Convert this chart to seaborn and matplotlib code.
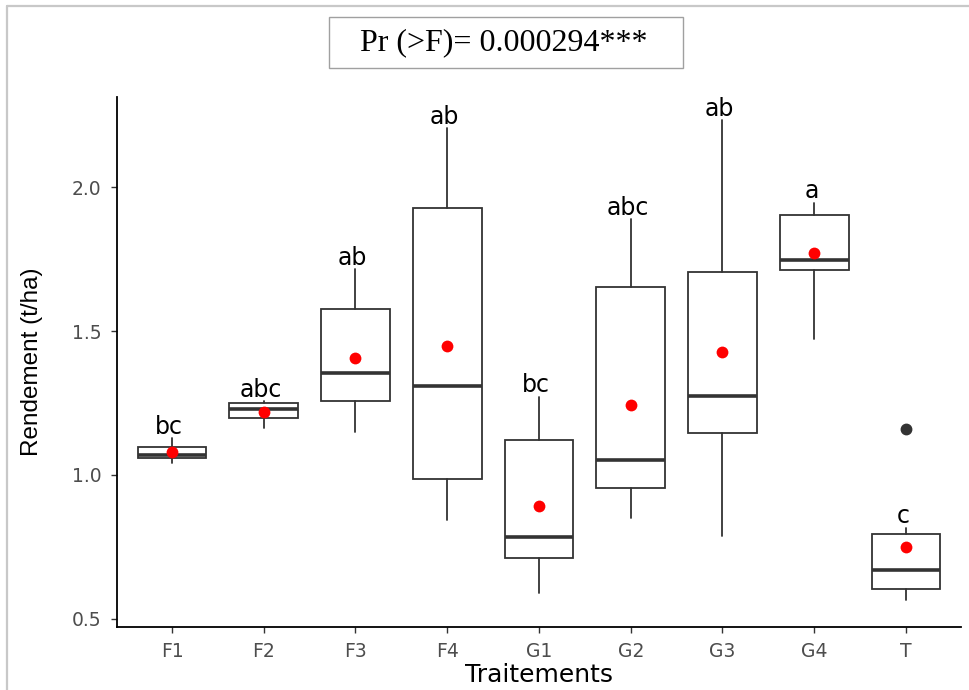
import matplotlib
matplotlib.use("Agg")
import matplotlib.pyplot as plt
from matplotlib.lines import Line2D
from matplotlib.patches import Rectangle
import seaborn as sns
import pandas as pd

# Treatments and their box statistics (yield, t/ha)
treatments = ["F1", "F2", "F3", "F4", "G1", "G2", "G3", "G4", "T"]
whisker_low = [1.043, 1.164, 1.148, 0.844, 0.589, 0.852, 0.788, 1.473, 0.566]
q1 = [1.060, 1.198, 1.257, 0.985, 0.710, 0.955, 1.147, 1.711, 0.604]
median = [1.070, 1.228, 1.355, 1.310, 0.786, 1.052, 1.275, 1.745, 0.669]
q3 = [1.098, 1.251, 1.576, 1.926, 1.122, 1.653, 1.705, 1.903, 0.795]
whisker_high = [1.127, 1.257, 1.714, 2.204, 1.272, 1.889, 2.233, 1.946, 0.817]
means = [1.080, 1.218, 1.406, 1.447, 0.893, 1.243, 1.428, 1.772, 0.749]
outliers = [[], [], [], [], [], [], [], [], [1.161]]
letters = ["bc", "abc", "ab", "ab", "bc", "abc", "ab", "a", "c"]
anova_label = "Pr (>F)= 0.000294***"

sns.set_style("ticks")
plt.rcParams["font.family"] = ["DejaVu Sans"]

fig = plt.figure(figsize=(9.69, 6.90), dpi=100)
ax = fig.add_axes([0.1207, 0.0913, 0.871, 0.768])

box_color = "#333333"
stats = [
    dict(whislo=whisker_low[i], q1=q1[i], med=median[i], q3=q3[i],
         whishi=whisker_high[i], fliers=outliers[i], label=treatments[i])
    for i in range(len(treatments))
]
ax.bxp(stats, positions=range(len(treatments)), widths=0.75,
       showcaps=False, showfliers=True, patch_artist=True,
       boxprops=dict(facecolor="white", edgecolor=box_color, linewidth=1.3),
       whiskerprops=dict(color=box_color, linewidth=1.3),
       medianprops=dict(color=box_color, linewidth=2.6),
       flierprops=dict(marker="o", markerfacecolor=box_color,
                       markeredgecolor=box_color, markersize=7.5))

# Treatment means as red points
mean_df = pd.DataFrame({"Traitements": treatments, "Rendement": means})
sns.stripplot(data=mean_df, x="Traitements", y="Rendement", order=treatments,
              color="red", jitter=False, size=8.5, linewidth=0, ax=ax, zorder=5)

# Grouping letters above each upper whisker
for i, (lab, top) in enumerate(zip(letters, whisker_high)):
    ax.text(i - 0.03, top + 0.015, lab, ha="center", va="baseline",
            fontsize=17, color="black")

ax.set_xlim(-0.6, 8.6)
ax.set_ylim(0.472, 2.3125)
ax.set_yticks([0.5, 1.0, 1.5, 2.0])
ax.set_yticklabels(["0.5", "1.0", "1.5", "2.0"])
ax.set_xticks(range(len(treatments)))
ax.set_xticklabels(treatments)

sns.despine(ax=ax)
for side in ["left", "bottom"]:
    ax.spines[side].set_color("black")
    ax.spines[side].set_linewidth(1.3)
ax.tick_params(axis="both", length=4, width=1.0, color="#333333",
               labelcolor="#4d4d4d", labelsize=13.5, pad=7)

ax.set_xlabel("Traitements", fontsize=18, color="black")
ax.set_ylabel("Rendement (t/ha)", fontsize=17.5, color="black",
              family=["Liberation Sans", "DejaVu Sans"])
ax.xaxis.set_label_coords(0.5, -0.067)
ax.yaxis.set_label_coords(-0.088, 0.5)

# Outer frame lines (top and left)
W, H = 969, 690
fig.add_artist(Line2D([7 / W, 1.0], [1 - 6 / H, 1 - 6 / H], color="#c8c8c8",
                      linewidth=1.6, transform=fig.transFigure))
fig.add_artist(Line2D([7 / W, 7 / W], [0.0, 1 - 6 / H], color="#c8c8c8",
                      linewidth=1.6, transform=fig.transFigure))

# ANOVA result box
fig.add_artist(Rectangle((329 / W, 1 - 68 / H), 354 / W, 51 / H,
                         transform=fig.transFigure, facecolor="white",
                         edgecolor="#a0a0a0", linewidth=1.0))
fig.text(504 / W, 1 - 43 / H, anova_label, ha="center", va="center",
         fontsize=23, family=["Liberation Serif", "DejaVu Serif"], color="black")

fig.savefig("out.png", dpi=100)
